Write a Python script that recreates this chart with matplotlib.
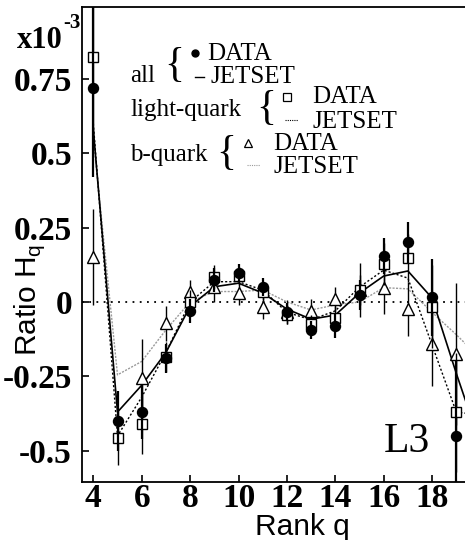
import numpy as np
import matplotlib
matplotlib.use("Agg")
import matplotlib.pyplot as plt
from matplotlib.lines import Line2D

plt.rcParams['mathtext.fontset'] = 'custom'
plt.rcParams['mathtext.rm'] = 'Liberation Sans'

# ratio H_q (x10^-3) versus rank q
q_data = [4, 5, 6, 7, 8, 9, 10, 11, 12, 13, 14, 15, 16, 17, 18, 19]
all_data = [0.72, -0.40, -0.37, -0.19, -0.03, 0.075, 0.098, 0.049, -0.033, -0.094, -0.08, 0.024, 0.155, 0.20, 0.015, -0.45]
all_err = [0.30, 0.10, 0.09, 0.05, 0.04, 0.04, 0.03, 0.03, 0.03, 0.03, 0.04, 0.05, 0.06, 0.07, 0.13, 0.25]
light_data = [0.823, -0.457, -0.41, -0.185, 0.0, 0.085, 0.087, 0.035, -0.044, -0.074, -0.055, 0.04, 0.128, 0.148, -0.016, -0.371]
light_err = [0.30, 0.09, 0.10, 0.05, 0.04, 0.04, 0.03, 0.03, 0.03, 0.03, 0.04, 0.05, 0.07, 0.08, 0.14, 0.20]
b_data = [0.151, np.nan, -0.255, -0.072, 0.034, 0.05, 0.03, -0.018, -0.035, -0.03, 0.01, 0.04, 0.048, -0.024, -0.141, -0.175]
b_err = [0.16, np.nan, 0.13, 0.06, 0.04, 0.05, 0.04, 0.04, 0.04, 0.04, 0.04, 0.09, 0.09, 0.09, 0.14, 0.24]

q_jet = [4, 5, 6, 7, 8, 9, 10, 11, 12, 13, 14, 15, 16, 17, 18, 19, 20]
all_jet = [0.58, -0.37, -0.28, -0.17, -0.015, 0.051, 0.063, 0.03, -0.024, -0.058, -0.044, 0.03, 0.087, 0.104, 0.013, -0.24, -0.48]
light_jet = [0.60, -0.45, -0.32, -0.17, 0.0, 0.068, 0.068, 0.04, -0.035, -0.06, -0.03, 0.05, 0.107, 0.08, -0.145, -0.37, -0.38]
b_jet = [0.55, -0.245, -0.2, -0.094, 0.0, 0.035, 0.035, 0.04, 0.0, -0.027, -0.01, 0.0, 0.048, 0.044, -0.035, -0.11, -0.19]

x_ticks = [4, 6, 8, 10, 12, 14, 16, 18]
y_ticks = [-0.5, -0.25, 0, 0.25, 0.5, 0.75]
y_ticklabels = ['-0.5', '-0.25', '0', '0.25', '0.5', '0.75']

W, H = 465, 540
SERIF = 'Liberation Serif'
SANS = 'Liberation Sans'


def fx(px):
    return px / W


def fy(py):
    return 1 - py / H


fig = plt.figure(figsize=(W / 100, H / 100), dpi=100)
left, bottom, top = 81.7, 481.7, 7.0
ax_w = W - left + 5
ax = fig.add_axes([fx(left), fy(bottom), ax_w / W, (bottom - top) / H])

xscale = 24.2
x0 = 4 - (93.3 - left) / xscale
ax.set_xlim(x0, x0 + ax_w / xscale)
ax.set_ylim(-0.604, 0.991)

# JETSET curves
ax.plot(q_jet, b_jet, color='#9a9a9a', lw=1.0, ls=(0, (1.5, 1)), zorder=2)
ax.plot(q_jet, light_jet, color='black', lw=1.0, ls=(0, (1.5, 1.5)), zorder=2)
ax.plot(q_jet, all_jet, color='black', lw=1.2, zorder=2)

# zero line
ax.axhline(0, color='black', lw=1.3, ls=(0, (1, 3)), zorder=1)

# data points
ax.errorbar(q_data, b_data, yerr=b_err, fmt='^', ms=8.5, mfc='white', mec='black',
            mew=1.0, ecolor='black', elinewidth=1.0, capsize=0, zorder=3)
ax.errorbar(q_data, light_data, yerr=light_err, fmt='s', ms=7.5, mfc='white', mec='black',
            mew=1.0, ecolor='black', elinewidth=1.0, capsize=0, zorder=4)
ax.errorbar(q_data, all_data, yerr=all_err, fmt='o', ms=7.2, mfc='black', mec='black',
            ecolor='black', elinewidth=1.6, capsize=0, zorder=5)

ax.set_xticks(x_ticks)
ax.set_xticklabels([str(t) for t in x_ticks])
ax.set_yticks(y_ticks)
ax.set_yticklabels(y_ticklabels)
ax.tick_params(direction='in', length=5, width=1.2)
ax.tick_params(axis='x', pad=1)
ax.tick_params(axis='y', pad=7)
for lab in ax.get_xticklabels() + ax.get_yticklabels():
    lab.set_fontfamily(SERIF)
    lab.set_fontweight('bold')
    lab.set_fontsize(24)
for s in ax.spines.values():
    s.set_linewidth(1.3)

# multiplier
fig.text(fx(17), fy(48), 'x10', family=SERIF, weight='bold', fontsize=22, va='baseline')
fig.text(fx(63), fy(28), '-3', family=SERIF, weight='bold', fontsize=15, va='baseline')

# axis labels
fig.text(fx(302), fy(535), 'Rank q', family=SANS, fontsize=21.5, ha='center', va='baseline')
fig.text(fx(30), fy(300), r'Ratio H$_{\mathrm{q}}$', family=SANS, fontsize=21.5,
         ha='center', va='center', rotation=90)

# legend block
fs = 18
fig.text(fx(130), fy(82), 'all', family=SERIF, fontsize=fs, va='baseline')
fig.text(fx(164), fy(66), '{', family=SERIF, fontsize=30, va='center')
fig.add_artist(Line2D([fx(195)], [fy(53)], marker='o', ms=5, color='black'))
fig.text(fx(207), fy(60), 'DATA', family=SERIF, fontsize=fs, va='baseline')
fig.add_artist(Line2D([fx(195), fx(204)], [fy(77), fy(77)], color='black', lw=1.0))
fig.text(fx(210), fy(83), 'JETSET', family=SERIF, fontsize=fs, va='baseline')

fig.text(fx(130), fy(116), 'light-quark', family=SERIF, fontsize=fs, va='baseline')
fig.text(fx(256), fy(109), '{', family=SERIF, fontsize=30, va='center')
fig.add_artist(Line2D([fx(287)], [fy(97)], marker='s', ms=6, mfc='white', mec='black',
                      mew=0.9, color='black'))
fig.text(fx(312), fy(103), 'DATA', family=SERIF, fontsize=fs, va='baseline')
fig.add_artist(Line2D([fx(285), fx(298)], [fy(120), fy(120)], color='black', lw=0.8,
                      ls=(0, (1, 1))))
fig.text(fx(312), fy(128), 'JETSET', family=SERIF, fontsize=fs, va='baseline')

fig.text(fx(130), fy(161), 'b-quark', family=SERIF, fontsize=fs, va='baseline')
fig.text(fx(216), fy(154), '{', family=SERIF, fontsize=30, va='center')
fig.add_artist(Line2D([fx(248)], [fy(143)], marker='^', ms=6, mfc='white', mec='black',
                      mew=0.9, color='black'))
fig.text(fx(273), fy(150), 'DATA', family=SERIF, fontsize=fs, va='baseline')
fig.add_artist(Line2D([fx(247), fx(260)], [fy(165), fy(165)], color='#9a9a9a', lw=0.8,
                      ls=(0, (1, 1))))
fig.text(fx(273), fy(173), 'JETSET', family=SERIF, fontsize=fs, va='baseline')

# experiment tag
fig.text(fx(384), fy(452), 'L3', family=SERIF, fontsize=30, va='baseline')

fig.savefig('out.png', dpi=100)
